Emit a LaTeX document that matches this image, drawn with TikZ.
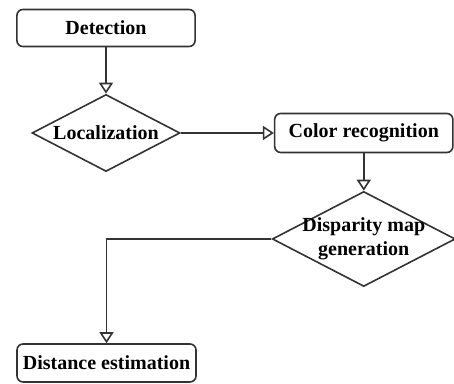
\documentclass[tikz,border=0pt]{standalone}
\usepackage{fontspec}
\setmainfont{Liberation Serif}
\usepackage{tikz}
\usetikzlibrary{shapes.geometric}
\usetikzlibrary{arrows.meta}

\tikzset{
  process/.style={draw=black!80, line width=0.8pt, rounded corners=3pt, fill=white,
    inner sep=0pt, minimum width=3.13cm, font=\bfseries},
  decision/.style={draw=black!80, line width=0.8pt, shape=diamond, aspect=1.95, fill=white,
    inner sep=0pt, font=\bfseries},
  flow/.style={draw=black!80, line width=0.8pt, -{Triangle[open,length=5.5pt,width=7pt]}}
}

\begin{document}
\begin{tikzpicture}
            \useasboundingbox (0,0)rectangle(7.975,-6.728);
            \node [process, minimum height=0.65cm] (detect) at (1.862,-0.492){Detection};
            \node [decision, minimum width=2.6cm, minimum height=1.353cm] (local) at (1.862,-2.336){Localization};
            \node [process, minimum height=0.685cm] (color) at (6.39,-2.336){Color recognition};
            \node [decision, minimum width=3.215cm, minimum height=1.669cm,
                   label={[font=\bfseries, align=center, baseline=0pt]center:{\fontsize{10}{7}\selectfont Disparity map\\generation}}] (disp) at (6.39,-4.198){};
            \node [process, minimum width=3.144cm, minimum height=0.667cm] (dist) at (1.871,-6.376){Distance estimation};
            \draw [flow](detect)--(local);
            \draw [flow](local)--(color);
            \draw [flow](color)--(disp);
            \draw [flow](disp.west)-|(dist.north);
        \end{tikzpicture}
\end{document}
